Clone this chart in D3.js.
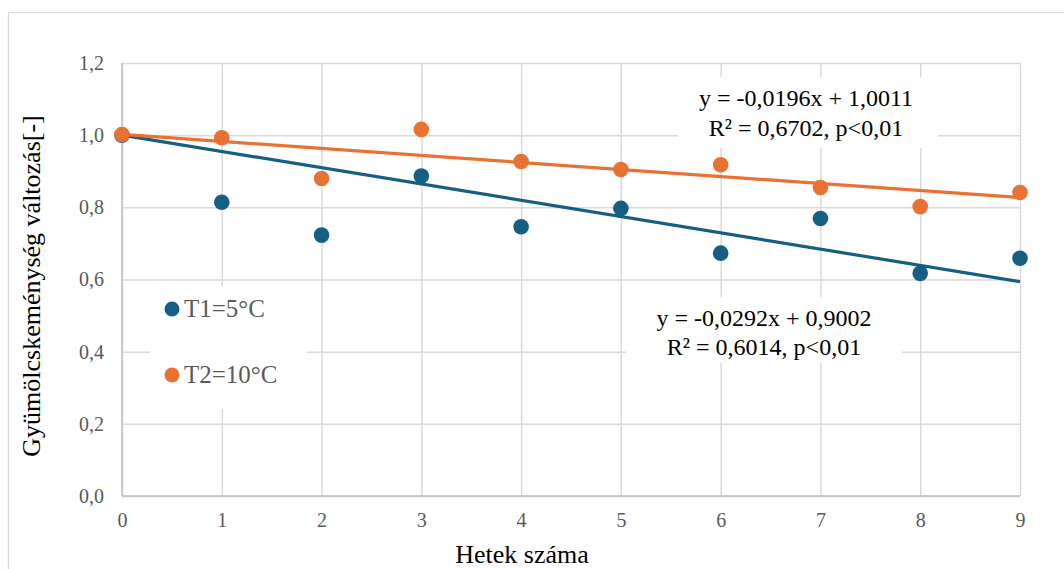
<!DOCTYPE html>
<html>
<head>
<meta charset="utf-8">
<script src="https://cdn.jsdelivr.net/npm/d3@7"></script>
<style>
  body { margin: 0; background: #fff; }
  text { font-family: "Liberation Serif", "Times New Roman", serif; }
</style>
</head>
<body>
<div id="chart"></div>
<script>
// data
var weeks = [0, 1, 2, 3, 4, 5, 6, 7, 8, 9];
var t1 = [1.000, 0.814, 0.723, 0.887, 0.746, 0.797, 0.673, 0.769, 0.617, 0.659];
var t2 = [1.002, 0.993, 0.880, 1.016, 0.927, 0.905, 0.918, 0.855, 0.802, 0.841];
// trend lines as drawn (start / end at week 0 and 9)
var trendX = [0, 9];
var t1Trend = [1.000, 0.594];
var t2Trend = [1.002, 0.827];
var yTicks = [0, 0.2, 0.4, 0.6, 0.8, 1.0, 1.2];
var seriesNames = ["T1=5°C", "T2=10°C"];
var eq1 = ["y = -0,0196x + 1,0011", "R² = 0,6702, p<0,01"];
var eq2 = ["y = -0,0292x + 0,9002", "R² = 0,6014, p<0,01"];

var blue = "#156082", orange = "#E97132";

var W = 1064, H = 569;
var margin = {top: 63, left: 122};
var width = 898, height = 433;

var svg = d3.select("#chart").append("svg")
  .attr("width", W).attr("height", H);

// outer chart border
svg.append("rect")
  .attr("x", 8.5).attr("y", 12.5)
  .attr("width", W + 20).attr("height", H + 20)
  .attr("fill", "none").attr("stroke", "#d9d9d9").attr("stroke-width", 1.3);

var g = svg.append("g")
  .attr("transform", "translate(" + margin.left + "," + margin.top + ")");

var x = d3.scaleLinear().domain([0, 9]).range([0, width]);
var y = d3.scaleLinear().domain([0, 1.2]).range([height, 0]);

// gridlines
g.append("g")
  .call(d3.axisLeft(y).tickValues(yTicks).tickSize(-width).tickFormat(""))
  .call(function (s) { s.select(".domain").remove(); })
  .selectAll("line").attr("stroke", "#d9d9d9").attr("stroke-width", 1.5);
g.append("g")
  .attr("transform", "translate(0," + height + ")")
  .call(d3.axisBottom(x).tickValues(weeks).tickSize(-height).tickFormat(""))
  .call(function (s) { s.select(".domain").remove(); })
  .selectAll("line").attr("stroke", "#d9d9d9").attr("stroke-width", 1.5);

// axis lines
g.append("line").attr("x1", 0).attr("x2", 0).attr("y1", 0).attr("y2", height)
  .attr("stroke", "#bfbfbf").attr("stroke-width", 1.5);
g.append("line").attr("x1", 0).attr("x2", width).attr("y1", height).attr("y2", height)
  .attr("stroke", "#bfbfbf").attr("stroke-width", 1.5);

// tick labels
var fmt = function (d) { return d3.format(".1f")(d).replace(".", ","); };
var yAx = g.append("g")
  .call(d3.axisLeft(y).tickValues(yTicks).tickSize(0).tickPadding(18).tickFormat(fmt));
yAx.select(".domain").remove();
yAx.selectAll("text").attr("font-size", 20).attr("fill", "#595959")
  .attr("font-family", "Liberation Serif");

var xAx = g.append("g")
  .attr("transform", "translate(0," + height + ")")
  .call(d3.axisBottom(x).tickValues(weeks).tickSize(0).tickPadding(17).tickFormat(d3.format("d")));
xAx.select(".domain").remove();
xAx.selectAll("text").attr("font-size", 20).attr("fill", "#595959")
  .attr("font-family", "Liberation Serif");

// white boxes behind legend and equations
svg.append("rect").attr("x", 150).attr("y", 286).attr("width", 157).attr("height", 123).attr("fill", "#fff");
svg.append("rect").attr("x", 678).attr("y", 77).attr("width", 260).attr("height", 71).attr("fill", "#fff");
svg.append("rect").attr("x", 626).attr("y", 297).attr("width", 276).attr("height", 66).attr("fill", "#fff");

// trend lines
var line = d3.line().x(function (d) { return x(d[0]); }).y(function (d) { return y(d[1]); });
g.append("path").datum(d3.zip(trendX, t1Trend))
  .attr("d", line).attr("fill", "none").attr("stroke", blue).attr("stroke-width", 3.2);
g.append("path").datum(d3.zip(trendX, t2Trend))
  .attr("d", line).attr("fill", "none").attr("stroke", orange).attr("stroke-width", 3.2);

// points
g.selectAll(".p1").data(d3.zip(weeks, t1)).enter().append("circle")
  .attr("cx", function (d) { return x(d[0]); })
  .attr("cy", function (d) { return y(d[1]); })
  .attr("r", 7.8).attr("fill", blue);
g.selectAll(".p2").data(d3.zip(weeks, t2)).enter().append("circle")
  .attr("cx", function (d) { return x(d[0]); })
  .attr("cy", function (d) { return y(d[1]); })
  .attr("r", 7.8).attr("fill", orange);

// legend
var legY = [309, 375];
var legC = [blue, orange];
seriesNames.forEach(function (name, i) {
  svg.append("circle").attr("cx", 172).attr("cy", legY[i]).attr("r", 7.5).attr("fill", legC[i]);
  svg.append("text").attr("x", 184).attr("y", legY[i] + 8)
    .attr("font-size", 25).attr("fill", "#595959").text(name);
});

// equations
function eqLabel(lines, cx, y0, dy) {
  lines.forEach(function (t, i) {
    svg.append("text").attr("x", cx).attr("y", y0 + i * dy)
      .attr("text-anchor", "middle").attr("font-size", 24).attr("fill", "#000").text(t);
  });
}
eqLabel(eq1, 806, 106, 30);
eqLabel(eq2, 764, 326, 29);

// axis titles
svg.append("text").attr("x", 522).attr("y", 563).attr("text-anchor", "middle")
  .attr("font-size", 26).attr("fill", "#000").text("Hetek száma");
svg.append("text").attr("transform", "translate(40,286) rotate(-90)")
  .attr("text-anchor", "middle").attr("font-size", 26).attr("fill", "#000")
  .text("Gyümölcskeménység változás[-]");
</script>
</body>
</html>
